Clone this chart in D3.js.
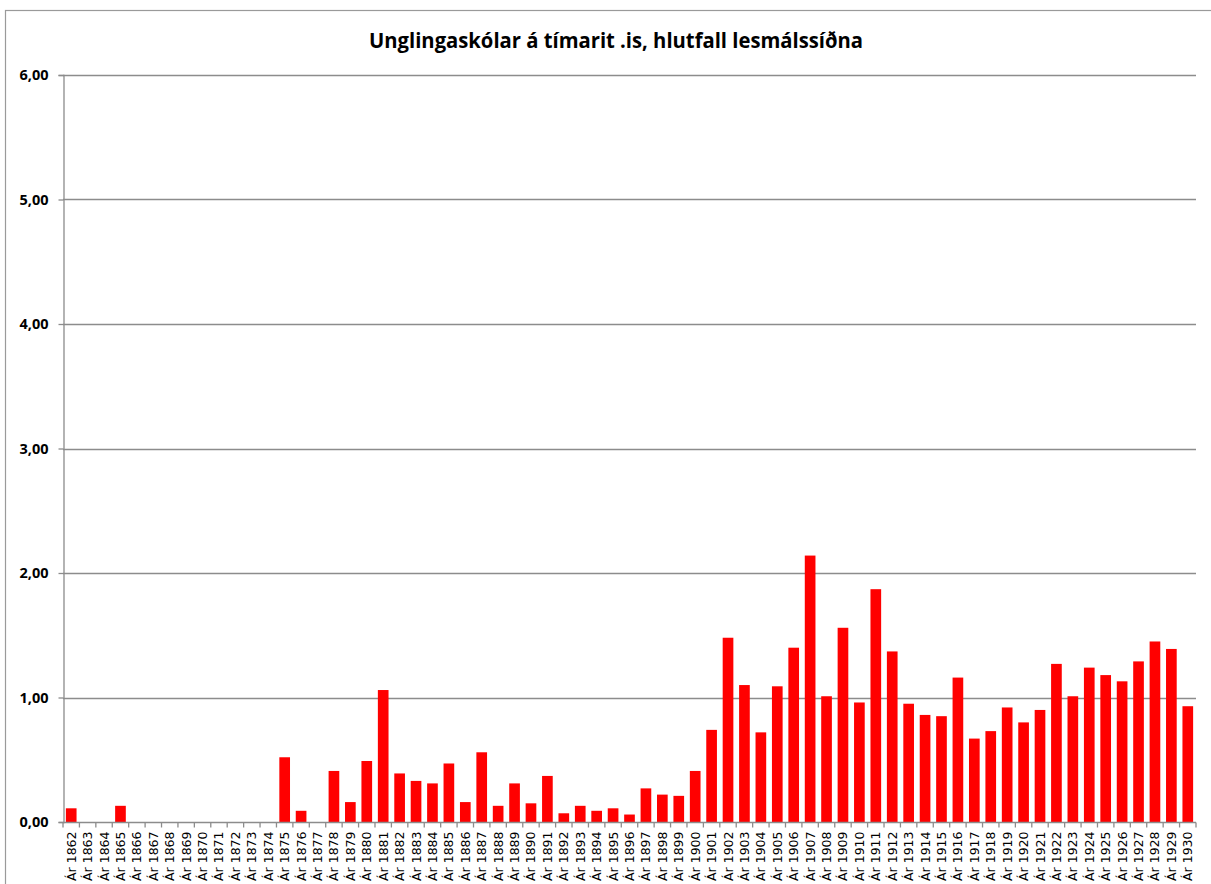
<!DOCTYPE html>
<html>
<head>
<meta charset="utf-8">
<script src="https://cdn.jsdelivr.net/npm/d3@7.9.0/dist/d3.min.js"></script>
<style>
  body { margin: 0; background: #fff; }
  svg { display: block; }
</style>
</head>
<body>
<svg id="chart"></svg>
<script>
const title = 'Unglingaskólar á tímarit .is, hlutfall lesmálssíðna';

const years = d3.range(1862, 1931);
const categories = years.map(y => 'Ár ' + y);

// hlutfall per year
const values = [
  0.11, 0, 0, 0.13, 0, 0, 0, 0, 0, 0,
  0, 0, 0, 0.52, 0.09, 0, 0.41, 0.16, 0.49, 1.06,
  0.39, 0.33, 0.31, 0.47, 0.16, 0.56, 0.13, 0.31, 0.15, 0.37,
  0.07, 0.13, 0.09, 0.11, 0.06, 0.27, 0.22, 0.21, 0.41, 0.74,
  1.48, 1.10, 0.72, 1.09, 1.40, 2.14, 1.01, 1.56, 0.96, 1.87,
  1.37, 0.95, 0.86, 0.85, 1.16, 0.67, 0.73, 0.92, 0.80, 0.90,
  1.27, 1.01, 1.24, 1.18, 1.13, 1.29, 1.45, 1.39, 0.93
];

const yTicks = [0, 1, 2, 3, 4, 5, 6];

const width = 1211;
const height = 884;
const margin = { top: 75, right: 15, bottom: 62, left: 63 };

const svg = d3.select('#chart')
    .attr('width', width)
    .attr('height', height);

// outer chart border (only top and left are visible)
svg.append('rect')
    .attr('x', 5.5)
    .attr('y', 10.5)
    .attr('width', width + 20)
    .attr('height', height + 20)
    .attr('fill', 'none')
    .attr('stroke', '#9a9a9a')
    .attr('stroke-width', 1.2);

const x = d3.scaleBand()
    .domain(categories)
    .range([margin.left, width - margin.right])
    .paddingInner(0.35)
    .paddingOuter(0.175);

const y = d3.scaleLinear()
    .domain([0, 6])
    .range([height - margin.bottom, margin.top]);

const fmt = v => d3.format('.2f')(v).replace('.', ',');

// gridlines
svg.append('g')
    .selectAll('line')
    .data(yTicks.filter(d => d > 0))
    .join('line')
    .attr('x1', margin.left)
    .attr('x2', width - margin.right)
    .attr('y1', d => Math.round(y(d)) + 0.5)
    .attr('y2', d => Math.round(y(d)) + 0.5)
    .attr('stroke', '#8c8c8c')
    .attr('stroke-width', 1.3);

// bars
svg.append('g')
    .selectAll('rect')
    .data(values)
    .join('rect')
    .attr('x', (d, i) => x(categories[i]))
    .attr('y', d => y(d))
    .attr('width', x.bandwidth())
    .attr('height', d => y(0) - y(d))
    .attr('fill', '#ff0000');

// y axis
const yAxis = svg.append('g')
    .attr('transform', `translate(${margin.left + 0.5}, 0)`)
    .call(d3.axisLeft(y).tickValues(yTicks).tickSize(5).tickPadding(10).tickFormat(fmt));
yAxis.select('.domain').attr('stroke', '#8c8c8c').attr('stroke-width', 1.3);
yAxis.selectAll('.tick line').attr('stroke', '#8c8c8c').attr('stroke-width', 1.3);
yAxis.selectAll('.tick text')
    .attr('font-family', '"Open Sans", "Liberation Sans", sans-serif')
    .attr('font-weight', 'bold')
    .attr('font-size', 14.5)
    .attr('fill', '#000');

// x axis: ticks between categories
const xAxisG = svg.append('g')
    .attr('transform', `translate(0, ${Math.round(y(0)) + 0.5})`);
xAxisG.append('line')
    .attr('x1', margin.left)
    .attr('x2', width - margin.right)
    .attr('stroke', '#8c8c8c')
    .attr('stroke-width', 1.3);
const step = x.step();
xAxisG.selectAll('line.sep')
    .data(d3.range(categories.length + 1))
    .join('line')
    .attr('class', 'sep')
    .attr('x1', i => margin.left + i * step)
    .attr('x2', i => margin.left + i * step)
    .attr('y1', 0)
    .attr('y2', 5)
    .attr('stroke', '#8c8c8c')
    .attr('stroke-width', 1.3);

xAxisG.selectAll('text')
    .data(categories)
    .join('text')
    .attr('transform', d => `translate(${x(d) + x.bandwidth() / 2 + 4.5}, 9) rotate(-90)`)
    .attr('text-anchor', 'end')
    .attr('font-family', '"DejaVu Sans", Verdana, sans-serif')
    .attr('font-size', 12.5)
    .attr('fill', '#000')
    .text(d => d);

// title
svg.append('text')
    .attr('x', 616)
    .attr('y', 48)
    .attr('text-anchor', 'middle')
    .attr('font-family', '"Open Sans", "Liberation Sans", sans-serif')
    .attr('font-weight', 'bold')
    .attr('font-size', 21)
    .attr('textLength', 494)
    .attr('lengthAdjust', 'spacingAndGlyphs')
    .attr('fill', '#000')
    .text(title);
</script>
</body>
</html>
